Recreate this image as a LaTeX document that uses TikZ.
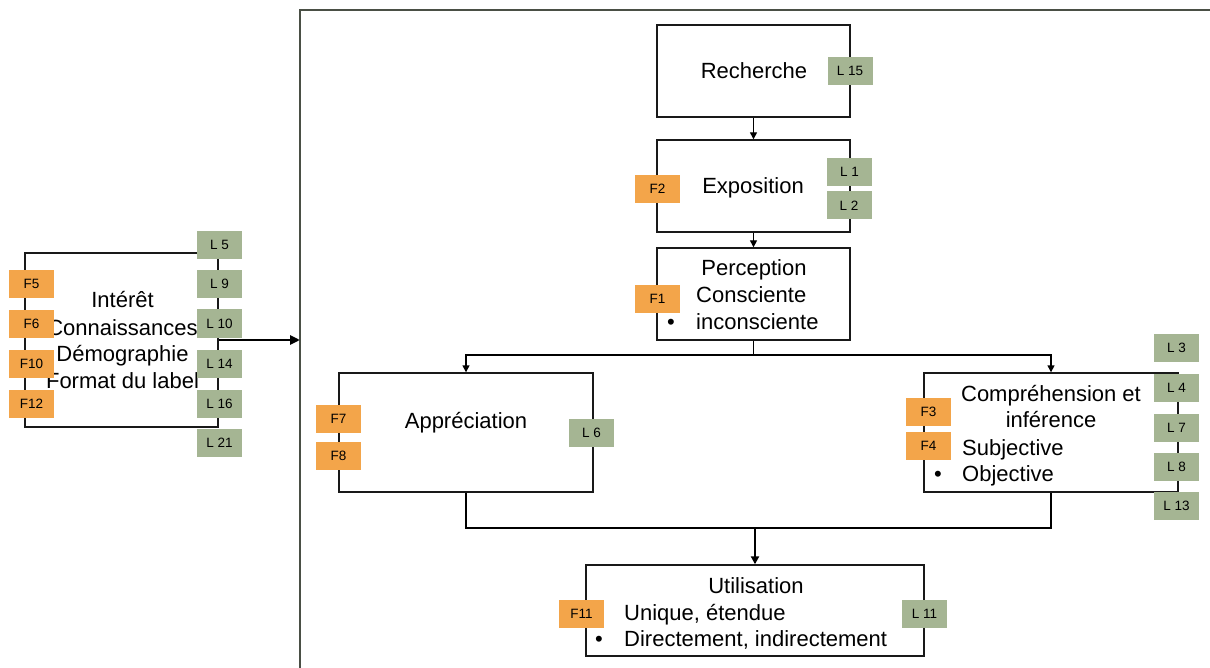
\documentclass[tikz,border=0pt]{standalone}
\usepackage{fontspec}
\setmainfont{Liberation Sans}
\usetikzlibrary{arrows.meta}
\definecolor{forange}{HTML}{F3A54A}
\definecolor{lgreen}{HTML}{A5B593}
\definecolor{framegray}{HTML}{4A4F45}
\begin{document}
\begin{tikzpicture}[x=1pt,y=-1pt,
  stage/.style={draw=black!90,line width=1.4pt,fill=white,inner sep=0pt},
  ftag/.style={fill=forange,minimum width=45pt,minimum height=28pt,inner sep=0pt,font=\fontsize{13.5}{15}\selectfont},
  ltag/.style={fill=lgreen,minimum width=45pt,minimum height=28pt,inner sep=0pt,font=\fontsize{13.5}{15}\selectfont},
  txt/.style={inner sep=0pt,font=\fontsize{22}{27}\selectfont,yshift=-2pt},
  conn/.style={line width=1.4pt,-{Triangle[length=7pt,width=7pt]}},
  plain/.style={line width=1.4pt}]
\useasboundingbox (0,0) rectangle (1210,668);
\fill[white] (0,0) rectangle (1210,668);

% outer frame of the process
\draw[framegray,line width=2.4pt] (300,680) -- (300,10) -- (1230,10);

% stage boxes
\node[stage,minimum width=193pt,minimum height=92pt] (rech) at (753.5,71) {};
\node[stage,minimum width=193pt,minimum height=92pt] (expo) at (753.5,186) {};
\node[stage,minimum width=193pt,minimum height=92pt] (perc) at (753.5,294) {};
\node[stage,minimum width=254pt,minimum height=119pt] (appr) at (466,432.5) {};
\node[stage,minimum width=254pt,minimum height=119pt] (comp) at (1051,432.5) {};
\node[stage,minimum width=338pt,minimum height=91pt] (util) at (755,610.5) {};
\node[stage,minimum width=193pt,minimum height=174pt] (ctx) at (121.5,340) {};

% texts
\node[txt,anchor=base] (trech) at (754,77) {Recherche};
\node[txt,anchor=base] (texpo) at (753,192) {Exposition};
\node[txt,anchor=base] (tperc) at (754,274) {Perception};
\node[txt,anchor=base west] (tcons) at (696,301) {Consciente};
\node[txt,anchor=base] (bperc) at (671,328) {•};
\node[txt,anchor=base west] (tinco) at (696,328) {inconsciente};
\node[txt,anchor=base] (tappr) at (466,426) {Appréciation};
\node[txt,anchor=base] (tcomp) at (1051,399) {Compréhension et};
\node[txt,anchor=base] (tinfe) at (1051,425) {inférence};
\node[txt,anchor=base west] (tsubj) at (962,453) {Subjective};
\node[txt,anchor=base] (bcomp) at (938,479) {•};
\node[txt,anchor=base west] (tobje) at (962,479) {Objective};
\node[txt,anchor=base] (tutil) at (756,591) {Utilisation};
\node[txt,anchor=base west] (tuniq) at (624,618) {Unique, étendue};
\node[txt,anchor=base] (butil) at (599,644) {•};
\node[txt,anchor=base west] (tdire) at (624,644) {Directement, indirectement};
\node[txt,anchor=base] (tint) at (122.5,306) {Intérêt};
\node[txt,anchor=base] (tcon) at (122.5,333) {Connaissances};
\node[txt,anchor=base] (tdem) at (122.5,359.5) {Démographie};
\node[txt,anchor=base] (tfor) at (122.5,386) {Format du label};

% connectors
\draw[conn] (rech.south) -- (expo.north);
\draw[conn] (expo.south) -- (perc.north);
\coordinate (split) at (753.5,355);
\draw[plain] (perc.south) -- (split);
\draw[conn] (split) -| (appr.north);
\draw[conn] (split) -| (comp.north);
\coordinate (merge) at (755,528);
\draw[plain] (appr.south) |- (merge) -| (comp.south);
\draw[line width=2.2pt,-{Triangle[length=8pt,width=8pt]}] (merge) -- (util.north);
\coordinate (frameL) at (300,340);
\draw[line width=2.6pt,-{Triangle[length=10pt,width=9pt]}] (ctx.east) -- (frameL);

% tags
\node[ltag] (l15) at (850,71) {L 15};
\node[ftag] (f2) at (657.5,189) {F2};
\node[ltag] (l1) at (849.5,172) {L 1};
\node[ltag] (l2) at (849,205.5) {L 2};
\node[ftag] (f1) at (657.5,299) {F1};
\node[ftag] (f7) at (338.5,419) {F7};
\node[ftag] (f8) at (338.5,456) {F8};
\node[ltag] (l6) at (591.5,433) {L 6};
\node[ftag] (f3) at (928.5,412) {F3};
\node[ftag] (f4) at (928.5,446) {F4};
\node[ltag] (l3) at (1176.5,348) {L 3};
\node[ltag] (l4) at (1176.5,388) {L 4};
\node[ltag] (l7) at (1176.5,427.5) {L 7};
\node[ltag] (l8) at (1176.5,467) {L 8};
\node[ltag] (l13) at (1176.5,506) {L 13};
\node[ftag] (f11) at (581.5,614) {F11};
\node[ltag] (l11) at (924.5,614) {L 11};
\node[ftag] (f5) at (31.5,284) {F5};
\node[ftag] (f6) at (31.5,324) {F6};
\node[ftag] (f10) at (31.5,364) {F10};
\node[ftag] (f12) at (31.5,404) {F12};
\node[ltag] (l5) at (219.5,245) {L 5};
\node[ltag] (l9) at (219.5,284) {L 9};
\node[ltag] (l10) at (219.5,323.5) {L 10};
\node[ltag] (l14) at (219.5,364) {L 14};
\node[ltag] (l16) at (219.5,404) {L 16};
\node[ltag] (l21) at (219.5,443) {L 21};
\end{tikzpicture}
\end{document}
